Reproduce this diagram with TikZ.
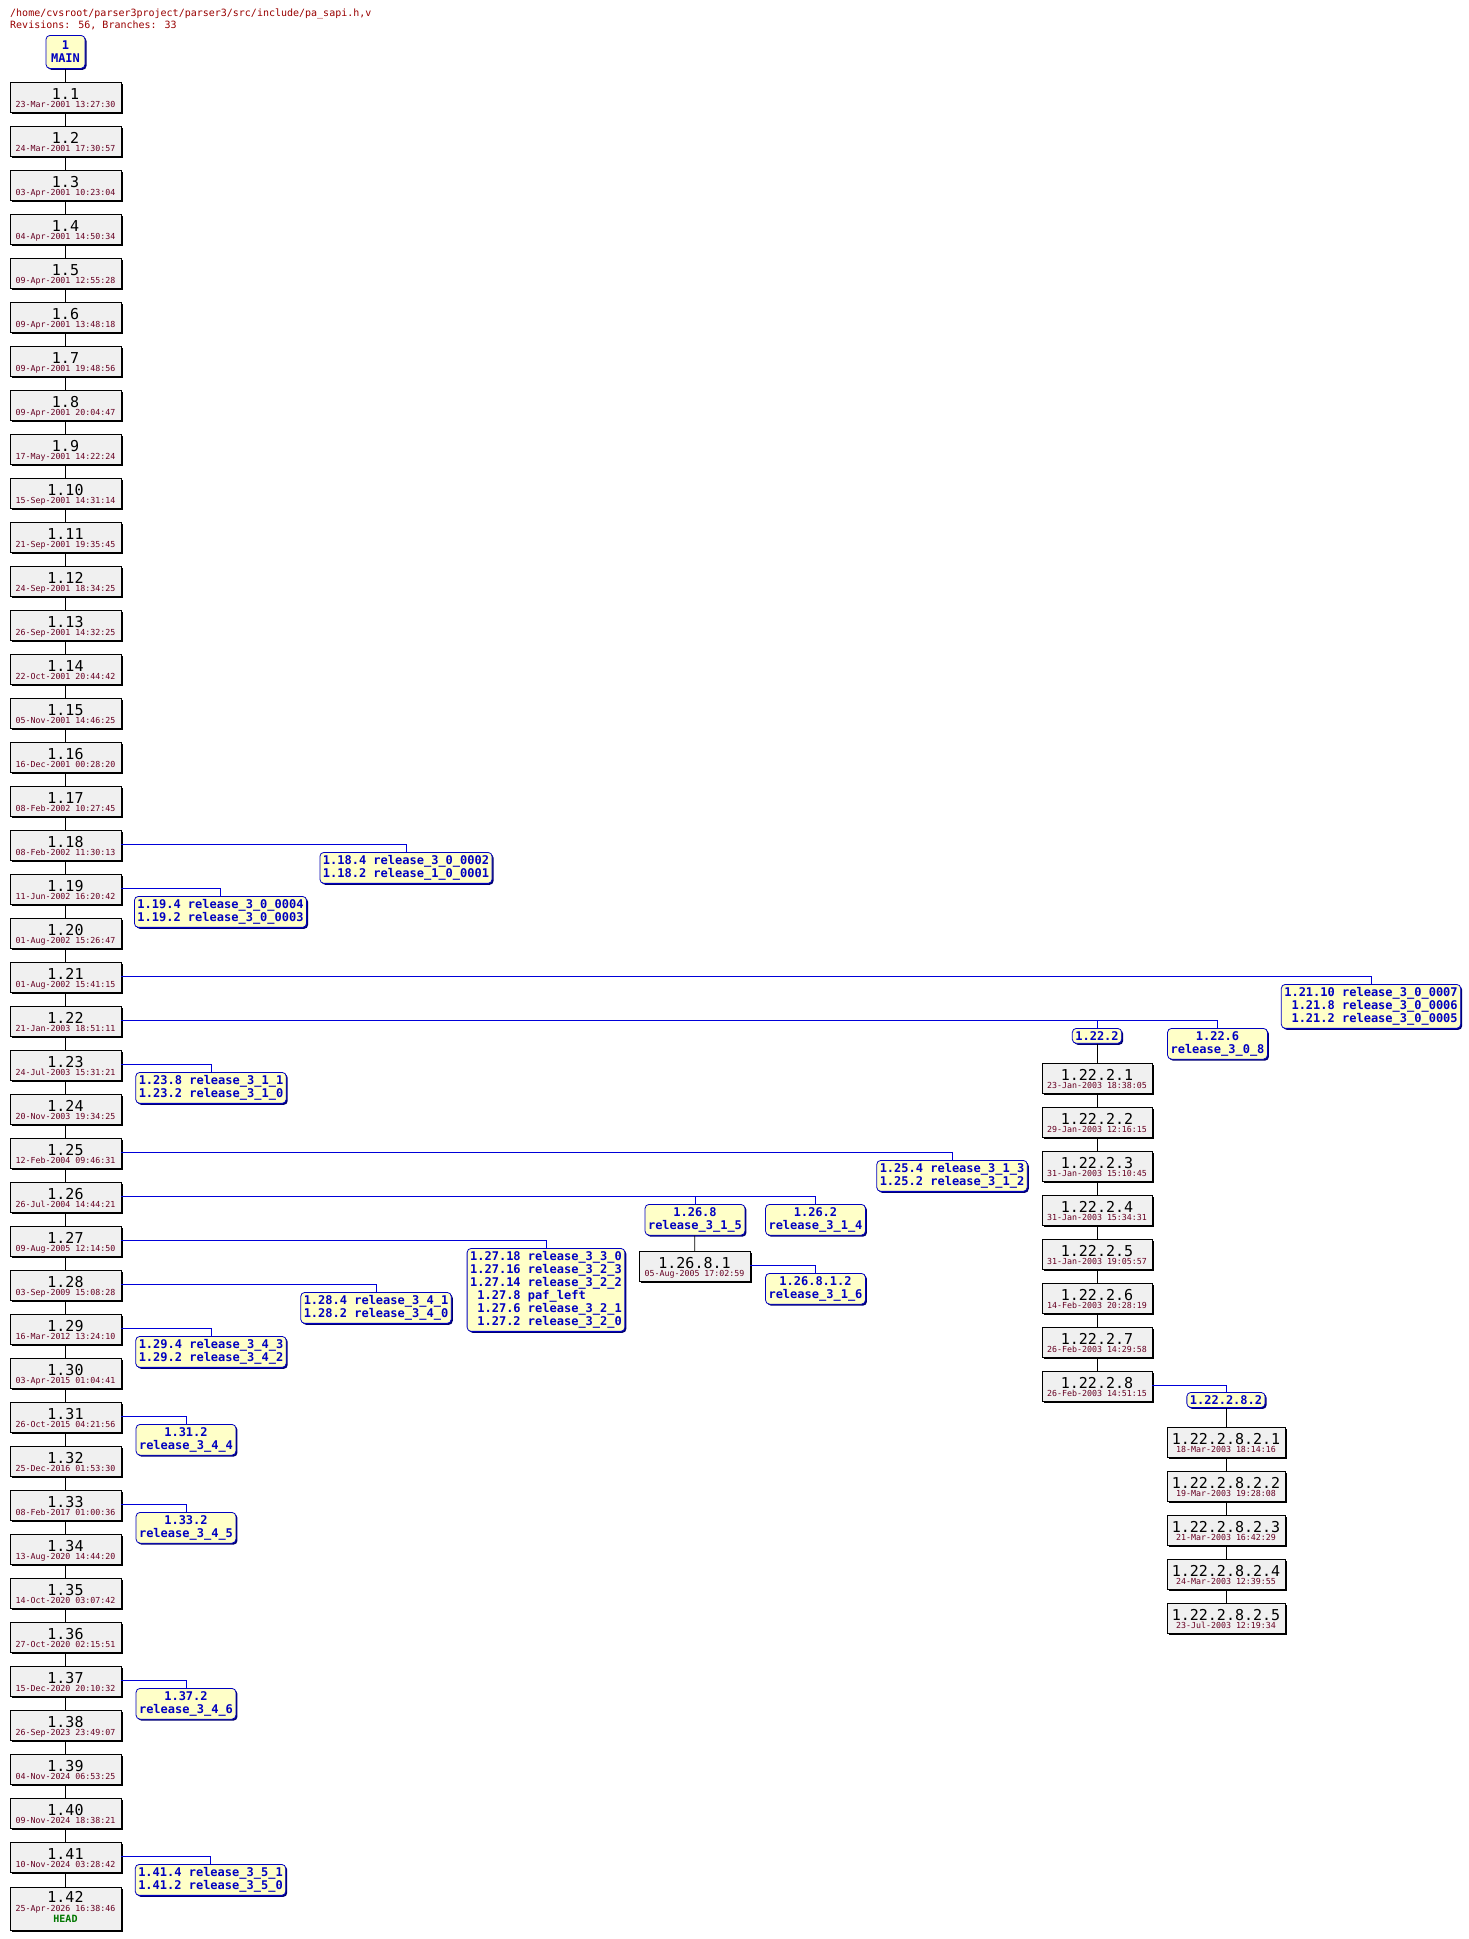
\documentclass[tikz,border=0pt]{standalone}
\usepackage{fontspec}
\newfontfamily\dmono{DejaVu Sans Mono}
\usetikzlibrary{shadows,calc}
\definecolor{datec}{HTML}{660022}
\definecolor{tagfill}{HTML}{FFFFC8}
\definecolor{tagc}{HTML}{0000C0}
\definecolor{titlec}{HTML}{990000}
\definecolor{headc}{HTML}{007700}
\tikzset{
 x=1pt,y=-1pt,
 revbox/.style={draw=black,fill=black!6,minimum height=30pt,inner sep=0pt,line width=0.8pt,
   drop shadow={shadow xshift=1.5pt,shadow yshift=-1.5pt,opacity=1,fill=black}},
 revnum/.style={anchor=base,inner sep=0pt,font=\dmono\fontsize{15}{15}\selectfont},
 revdate/.style={anchor=base,inner sep=0pt,text=datec,font=\dmono\fontsize{8.3}{8.3}\selectfont},
 tag/.style={draw=tagc,fill=tagfill,rounded corners=4pt,line width=0.8pt,anchor=north,
   inner xsep=3pt,inner ysep=3pt,text=tagc,font=\dmono\bfseries\fontsize{12}{13}\selectfont,
   drop shadow={shadow xshift=1.5pt,shadow yshift=-1.5pt,opacity=1,fill=tagc!60!black}},
 bl/.style={draw=blue!85!black,line width=0.7pt},
 ml/.style={draw=black,line width=0.7pt}
}
\newcommand\rv[6]{%
 \node[revbox,minimum width=#4,anchor=north] (#1) at (#2,#3) {};
 \node[revnum] (#1n) at ($(#1.north)+(0,17)$) {#5};
 \node[revdate] (#1d) at ($(#1.north)+(0,25.5)$) {#6};
}
\begin{document}
\begin{tikzpicture}
\useasboundingbox[fill=white] (0,0) rectangle (1469,1939);
\node[anchor=base west,inner sep=0pt,text=titlec,font=\dmono\fontsize{10}{10}\selectfont] (title1) at (10,16) {/home/cvsroot/parser3project/parser3/src/include/pa\_sapi.h,v};
\node[anchor=base west,inner sep=0pt,text=titlec,font=\dmono\fontsize{10}{10}\selectfont] (title2) at (10,28) {Revisions: 56, Branches: 33};
\node[tag,minimum width=39pt,minimum height=33pt,inner ysep=2pt,align=center] (main) at (65.5,35) {1\\MAIN};
% main trunk
\foreach \n/\d [count=\i] in {1.1/23-Mar-2001 13:27:30,1.2/24-Mar-2001 17:30:57,1.3/03-Apr-2001 10:23:04,1.4/04-Apr-2001 14:50:34,1.5/09-Apr-2001 12:55:28,1.6/09-Apr-2001 13:48:18,1.7/09-Apr-2001 19:48:56,1.8/09-Apr-2001 20:04:47,1.9/17-May-2001 14:22:24,1.10/15-Sep-2001 14:31:14,1.11/21-Sep-2001 19:35:45,1.12/24-Sep-2001 18:34:25,1.13/26-Sep-2001 14:32:25,1.14/22-Oct-2001 20:44:42,1.15/05-Nov-2001 14:46:25,1.16/16-Dec-2001 00:28:20,1.17/08-Feb-2002 10:27:45,1.18/08-Feb-2002 11:30:13,1.19/11-Jun-2002 16:20:42,1.20/01-Aug-2002 15:26:47,1.21/01-Aug-2002 15:41:15,1.22/21-Jan-2003 18:51:11,1.23/24-Jul-2003 15:31:21,1.24/20-Nov-2003 19:34:25,1.25/12-Feb-2004 09:46:31,1.26/26-Jul-2004 14:44:21,1.27/09-Aug-2005 12:14:50,1.28/03-Sep-2009 15:08:28,1.29/16-Mar-2012 13:24:10,1.30/03-Apr-2015 01:04:41,1.31/26-Oct-2015 04:21:56,1.32/25-Dec-2016 01:53:30,1.33/08-Feb-2017 01:00:36,1.34/13-Aug-2020 14:44:20,1.35/14-Oct-2020 03:07:42,1.36/27-Oct-2020 02:15:51,1.37/15-Dec-2020 20:10:32,1.38/26-Sep-2023 23:49:07,1.39/04-Nov-2024 06:53:25,1.40/09-Nov-2024 18:38:21,1.41/10-Nov-2024 03:28:42}{
 \pgfmathsetmacro\tp{82+44*(\i-1)}
 \rv{r\i}{65.5}{\tp}{111pt}{\n}{\d}
}
\node[revbox,minimum width=111pt,minimum height=43pt,anchor=north] (r42) at (65.5,1887) {};
\node[revnum] (r42n) at ($(r42.north)+(0,15)$) {1.42};
\node[revdate] (r42d) at ($(r42.north)+(0,24)$) {25-Apr-2026 16:38:46};
\node[anchor=base,inner sep=0pt,text=headc,font=\dmono\bfseries\fontsize{10}{10}\selectfont] (r42h) at ($(r42.north)+(0,35)$) {HEAD};
\draw[ml] (main) -- (r1);
\foreach \i [evaluate=\i as \j using int(\i+1)] in {1,...,41}{\draw[ml] (r\i) -- (r\j);}
% tags on trunk
\node[tag,align=left] (t118) at (406,852) {1.18.4 release\_3\_0\_0002\\1.18.2 release\_1\_0\_0001};
\node[tag,align=left] (t119) at (220.5,896) {1.19.4 release\_3\_0\_0004\\1.19.2 release\_3\_0\_0003};
\node[tag,align=left] (t121) at (1371,984) {1.21.10 release\_3\_0\_0007\\\phantom{0}1.21.8 release\_3\_0\_0006\\\phantom{0}1.21.2 release\_3\_0\_0005};
\node[tag,align=center] (t1222) at (1097,1028) {1.22.2};
\node[tag,align=center] (t1226) at (1217.5,1028) {1.22.6\\release\_3\_0\_8};
\node[tag,align=left] (t123) at (211,1072) {1.23.8 release\_3\_1\_1\\1.23.2 release\_3\_1\_0};
\node[tag,align=left] (t125) at (952,1160) {1.25.4 release\_3\_1\_3\\1.25.2 release\_3\_1\_2};
\node[tag,align=center] (t1268) at (695,1204) {1.26.8\\release\_3\_1\_5};
\node[tag,align=center] (t1262) at (815.5,1204) {1.26.2\\release\_3\_1\_4};
\node[tag,align=left] (t127) at (546,1248) {1.27.18 release\_3\_3\_0\\1.27.16 release\_3\_2\_3\\1.27.14 release\_3\_2\_2\\\phantom{0}1.27.8 paf\_left\\\phantom{0}1.27.6 release\_3\_2\_1\\\phantom{0}1.27.2 release\_3\_2\_0};
\node[tag,align=left] (t128) at (376,1292) {1.28.4 release\_3\_4\_1\\1.28.2 release\_3\_4\_0};
\node[tag,align=left] (t129) at (211,1336) {1.29.4 release\_3\_4\_3\\1.29.2 release\_3\_4\_2};
\node[tag,align=center] (t131) at (186,1424) {1.31.2\\release\_3\_4\_4};
\node[tag,align=center] (t133) at (186,1512) {1.33.2\\release\_3\_4\_5};
\node[tag,align=center] (t137) at (186,1688) {1.37.2\\release\_3\_4\_6};
\node[tag,align=left] (t141) at (210.5,1864) {1.41.4 release\_3\_5\_1\\1.41.2 release\_3\_5\_0};
\foreach \a/\b in {18/118,19/119,21/121,22/1222,22/1226,23/123,25/125,26/1268,26/1262,27/127,28/128,29/129,31/131,33/133,37/137,41/141}{
 \draw[bl] ($(r\a.north east)+(0,14)$) -| (t\b.north);
}
% branch 1.22.2
\foreach \n/\d [count=\i] in {1.22.2.1/23-Jan-2003 18:38:05,1.22.2.2/29-Jan-2003 12:16:15,1.22.2.3/31-Jan-2003 15:10:45,1.22.2.4/31-Jan-2003 15:34:31,1.22.2.5/31-Jan-2003 19:05:57,1.22.2.6/14-Feb-2003 20:28:19,1.22.2.7/26-Feb-2003 14:29:58,1.22.2.8/26-Feb-2003 14:51:15}{
 \pgfmathsetmacro\tp{1063+44*(\i-1)}
 \rv{b\i}{1097}{\tp}{110pt}{\n}{\d}
}
\draw[ml] (t1222) -- (b1);
\foreach \i [evaluate=\i as \j using int(\i+1)] in {1,...,7}{\draw[ml] (b\i) -- (b\j);}
\node[tag,align=center] (t122282) at (1226,1392) {1.22.2.8.2};
\draw[bl] ($(b8.north east)+(0,14)$) -| (t122282.north);
\foreach \n/\d [count=\i] in {1.22.2.8.2.1/18-Mar-2003 18:14:16,1.22.2.8.2.2/19-Mar-2003 19:28:08,1.22.2.8.2.3/21-Mar-2003 16:42:29,1.22.2.8.2.4/24-Mar-2003 12:39:55,1.22.2.8.2.5/23-Jul-2003 12:19:34}{
 \pgfmathsetmacro\tp{1427+44*(\i-1)}
 \rv{c\i}{1226}{\tp}{118pt}{\n}{\d}
}
\draw[ml] (t122282) -- (c1);
\foreach \i [evaluate=\i as \j using int(\i+1)] in {1,...,4}{\draw[ml] (c\i) -- (c\j);}
% branch 1.26.8
\rv{d1}{694.5}{1251}{111pt}{1.26.8.1}{05-Aug-2005 17:02:59}
\draw[ml] (t1268) -- (d1);
\node[tag,align=center] (t12681) at (815.5,1273) {1.26.8.1.2\\release\_3\_1\_6};
\draw[bl] ($(d1.north east)+(0,14)$) -| (t12681.north);
\end{tikzpicture}
\end{document}
